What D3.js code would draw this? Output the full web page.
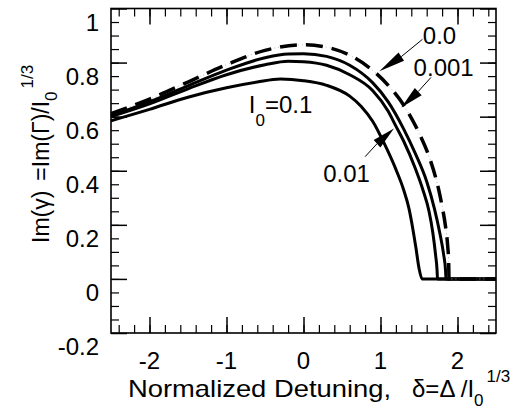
<!DOCTYPE html>
<html>
<head>
<meta charset="utf-8">
<script src="https://cdn.jsdelivr.net/npm/d3@7"></script>
<style>
  body { margin: 0; background: #fff; }
  svg { display: block; font-family: "Liberation Sans", Arial, Helvetica, sans-serif; }
</style>
</head>
<body>
<div id="chart"></div>
<script>
/* CONSTANTS AND GLOBALS */
const width = 521,
  height = 420,
  margin = { top: 8.5, bottom: 87, left: 111, right: 25 };

// tick values and labels
const xTickValues = [-2, -1, 0, 1, 2];
const xTickLabels = ["-2", "-1", "0", "1", "2"];
const yTickValues = [-0.2, 0, 0.2, 0.4, 0.6, 0.8, 1];
const yTickLabels = ["-0.2", "0", "0.2", "0.4", "0.6", "0.8", "1"];

// I0 = 0.0 (dashed)
const delta00 = [-2.5, -2.0, -1.5, -1.0, -0.5, 0, 0.3, 0.6, 0.92, 1.1, 1.3, 1.5, 1.64, 1.72, 1.76, 1.8, 1.845, 1.872, 1.885, 1.89, 2.5];
const gamma00 = [0.611, 0.665, 0.728, 0.792, 0.845, 0.866, 0.857, 0.827, 0.766, 0.716, 0.643, 0.540, 0.445, 0.371, 0.325, 0.269, 0.193, 0.124, 0.064, 0, 0];

// I0 = 0.001
const delta0001 = [-2.5, -2.0, -1.5, -1.0, -0.5, -0.2, 0, 0.3, 0.6, 0.9, 1.1, 1.3, 1.45, 1.6, 1.7, 1.77, 1.82, 1.845, 1.85, 2.5];
const gamma0001 = [0.604, 0.655, 0.714, 0.772, 0.818, 0.832, 0.833, 0.823, 0.79, 0.725, 0.655, 0.555, 0.465, 0.36, 0.26, 0.17, 0.09, 0.03, 0, 0];

// I0 = 0.01
const delta001 = [-2.5, -2.0, -1.5, -1.0, -0.5, -0.2, 0, 0.3, 0.6, 0.9, 1.1, 1.2, 1.3, 1.45, 1.55, 1.63, 1.68, 1.715, 1.735, 1.74, 2.5];
const gamma001 = [0.600, 0.647, 0.703, 0.755, 0.792, 0.805, 0.803, 0.79, 0.755, 0.696, 0.62, 0.565, 0.51, 0.41, 0.33, 0.25, 0.17, 0.09, 0.03, 0, 0];

// I0 = 0.1
const delta01 = [-2.5, -2.0, -1.5, -1.0, -0.6, -0.3, 0, 0.3, 0.6, 0.75, 0.9, 1.05, 1.2, 1.3, 1.37, 1.42, 1.46, 1.5, 1.54, 2.5];
const gamma01 = [0.585, 0.627, 0.672, 0.707, 0.728, 0.739, 0.733, 0.716, 0.676, 0.638, 0.582, 0.5, 0.405, 0.33, 0.26, 0.185, 0.115, 0.04, 0, 0];

const curveLabels = ["0.0", "0.001", "0.01", "0.1"];

let svg, xScale, yScale;

/* INITIALIZING FUNCTION */
function init() {
  svg = d3.select("#chart").append("svg")
    .attr("width", width)
    .attr("height", height);

  xScale = d3.scaleLinear()
    .domain([-2.5, 2.5])
    .range([margin.left, width - margin.right]);

  yScale = d3.scaleLinear()
    .domain([-0.2, 1.0])
    .range([height - margin.bottom, margin.top]);

  draw();
}

function drawAxes() {
  const x0 = margin.left, x1 = width - margin.right;
  const y0 = margin.top, y1 = height - margin.bottom;
  const xMinor = d3.range(-2.4, 2.5, 0.2).map(v => +v.toFixed(2));
  const yMinor = d3.range(-0.15, 1.0, 0.05).map(v => +v.toFixed(2));

  // inward ticks on all four sides, minor then major
  const axes = [
    [d3.axisBottom(xScale), `translate(0,${y1})`, xMinor, xTickValues],
    [d3.axisTop(xScale), `translate(0,${y0})`, xMinor, xTickValues],
    [d3.axisLeft(yScale), `translate(${x0},0)`, yMinor, yTickValues],
    [d3.axisRight(yScale), `translate(${x1},0)`, yMinor, yTickValues]
  ];
  axes.forEach(([ax, tr, minor, major]) => {
    svg.append("g").attr("transform", tr)
      .call(ax.tickValues(minor).tickSize(-8).tickFormat(""))
      .call(g => g.select(".domain").remove())
      .selectAll("line").attr("stroke-width", 1.2);
    svg.append("g").attr("transform", tr)
      .call(ax.tickValues(major).tickSize(-16).tickFormat(""))
      .call(g => g.select(".domain").remove())
      .selectAll("line").attr("stroke-width", 1.5);
  });

  svg.append("rect")
    .attr("x", x0).attr("y", y0)
    .attr("width", x1 - x0).attr("height", y1 - y0)
    .attr("fill", "none").attr("stroke", "#000").attr("stroke-width", 1.6);

  // tick labels
  svg.append("g").selectAll("text")
    .data(xTickValues)
    .join("text")
    .attr("x", d => xScale(d))
    .attr("y", y1 + 36)
    .attr("text-anchor", "middle")
    .attr("font-size", 24)
    .text((d, i) => xTickLabels[i]);

  svg.append("g").selectAll("text")
    .data(yTickValues)
    .join("text")
    .attr("x", x0 - 12)
    .attr("y", d => yScale(d) + 22)
    .attr("text-anchor", "end")
    .attr("font-size", 24)
    .text((d, i) => yTickLabels[i]);

  // x title
  svg.append("text")
    .attr("x", 128).attr("y", 397)
    .attr("font-size", 24)
    .attr("textLength", 263)
    .attr("lengthAdjust", "spacingAndGlyphs")
    .text("Normalized Detuning,");
  const xt = svg.append("text")
    .attr("x", 412).attr("y", 397)
    .attr("font-size", 24);
  xt.append("tspan").text("\u03B4=\u0394 /I");
  xt.append("tspan").attr("dy", 9).attr("font-size", 17).text("0");
  xt.append("tspan").attr("dy", -24).attr("dx", 3).attr("font-size", 17).text("1/3");

  // y title
  const yt = svg.append("text")
    .attr("transform", `translate(49,243) rotate(-90)`)
    .attr("font-size", 23);
  yt.append("tspan").text("Im(\u03B3)");
  yt.append("tspan").attr("dx", 10).text("=Im(\u0393)/I");
  yt.append("tspan").attr("dy", 8).attr("font-size", 17).text("0");
  yt.append("tspan").attr("dy", -24).attr("dx", 3).attr("font-size", 17).text("1/3");
}

function drawCurves() {
  const line = d3.line()
    .x(d => xScale(d[0]))
    .y(d => yScale(d[1]))
    .curve(d3.curveMonotoneX);

  const series = [
    { x: delta01, y: gamma01 },
    { x: delta001, y: gamma001 },
    { x: delta0001, y: gamma0001 }
  ];
  svg.append("g").selectAll("path")
    .data(series)
    .join("path")
    .attr("d", s => line(s.x.map((v, i) => [v, s.y[i]])))
    .attr("fill", "none")
    .attr("stroke", "#000")
    .attr("stroke-width", 3);

  const dashed = delta00.map((v, i) => [v, gamma00[i]]);
  // faint dotted trace between the dashes, like the scan
  svg.append("path")
    .attr("d", line(dashed))
    .attr("fill", "none")
    .attr("stroke", "#aaa")
    .attr("stroke-width", 0.8)
    .attr("stroke-dasharray", "1,3");
  svg.append("path")
    .attr("d", line(dashed))
    .attr("fill", "none")
    .attr("stroke", "#000")
    .attr("stroke-width", 3.5)
    .attr("stroke-dasharray", "17,9");
}

function arrow(from, base, tip) {
  const f = [xScale(from[0]), yScale(from[1])],
    b = [xScale(base[0]), yScale(base[1])],
    t = [xScale(tip[0]), yScale(tip[1])];
  svg.append("line")
    .attr("x1", f[0]).attr("y1", f[1]).attr("x2", b[0]).attr("y2", b[1])
    .attr("stroke", "#000").attr("stroke-width", 1);
  const dx = t[0] - b[0], dy = t[1] - b[1], len = Math.hypot(dx, dy);
  const nx = -dy / len * 5, ny = dx / len * 5;
  svg.append("polygon")
    .attr("points", [[b[0] + nx, b[1] + ny], t, [b[0] - nx, b[1] - ny]].map(p => p.join(",")).join(" "))
    .attr("fill", "#000");
}

function drawNotes() {
  const lab = (x, y, s) => svg.append("text")
    .attr("x", xScale(x)).attr("y", yScale(y))
    .attr("font-size", 24).text(s);

  lab(1.55, 0.869, curveLabels[0]);
  arrow([1.545, 0.886], [1.27, 0.822], [0.985, 0.768]);

  lab(1.43, 0.751, curveLabels[1]);
  arrow([1.655, 0.745], [1.49, 0.693], [1.27, 0.634]);

  lab(0.255, 0.357, curveLabels[2]);
  arrow([0.80, 0.452], [0.955, 0.50], [1.175, 0.556]);

  const t = svg.append("text")
    .attr("x", xScale(-0.71)).attr("y", yScale(0.613))
    .attr("font-size", 24);
  t.append("tspan").text("I");
  t.append("tspan").attr("dy", 13).attr("font-size", 17).text("0");
  t.append("tspan").attr("dy", -13).text("=" + curveLabels[3]);
}

/* DRAW FUNCTION */
function draw() {
  drawAxes();
  drawCurves();
  drawNotes();
}

init();
</script>
</body>
</html>
